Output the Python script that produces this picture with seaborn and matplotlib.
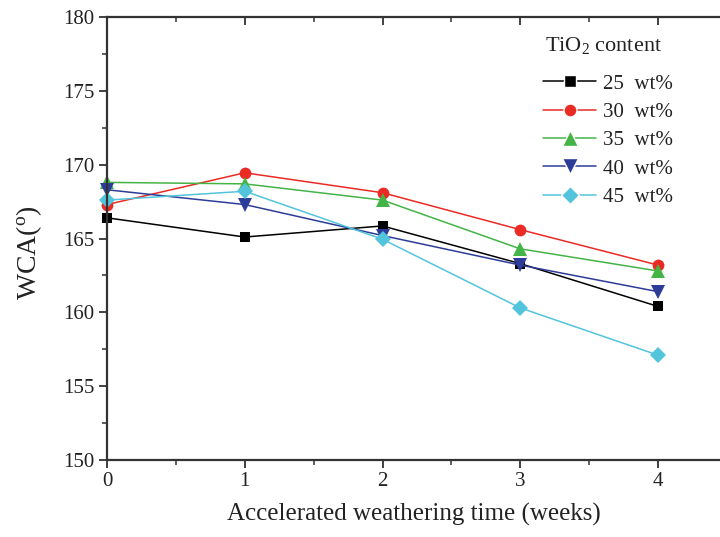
import matplotlib
matplotlib.use("Agg")
import matplotlib.pyplot as plt
import seaborn as sns
import pandas as pd
from matplotlib.ticker import MultipleLocator

weeks = [0, 1, 2, 3, 4]
wca_25 = [166.4, 165.1, 165.85, 163.3, 160.4]
wca_30 = [167.3, 169.45, 168.1, 165.6, 163.2]
wca_35 = [168.8, 168.7, 167.6, 164.3, 162.8]
wca_40 = [168.3, 167.3, 165.2, 163.2, 161.4]
wca_45 = [167.6, 168.2, 164.95, 160.3, 157.1]
labels = ["25  wt%", "30  wt%", "35  wt%", "40  wt%", "45  wt%"]
series = [wca_25, wca_30, wca_35, wca_40, wca_45]
colors = ["#000000", "#ea2b25", "#44b446", "#2c3c98", "#52c4dc"]
markers = ["s", "o", "^", "v", "D"]
msizes = [7.5, 8.5, 10, 10, 8]

sns.set_theme(style="ticks")
plt.rcParams["font.family"] = ["Liberation Serif", "DejaVu Serif"]
plt.rcParams["mathtext.fontset"] = "custom"
plt.rcParams["mathtext.rm"] = "Liberation Serif"
plt.rcParams["mathtext.it"] = "Liberation Serif:italic"

fig = plt.figure(figsize=(7.2, 5.37), dpi=100)
ax = fig.add_axes([107 / 720, 1 - 460 / 537, 1 - 107 / 720, (460 - 17) / 537])

for vals, lab, c, m, ms in zip(series, labels, colors, markers, msizes):
    df = pd.DataFrame({"week": weeks, "wca": vals})
    sns.lineplot(data=df, x="week", y="wca", ax=ax, color=c, marker=m,
                 markersize=ms, markeredgewidth=0, linewidth=1.1, label=lab,
                 clip_on=False)

ax.set_xlim(0, (720 - 107) / 137.75)
ax.set_ylim(150, 180)
ax.xaxis.set_major_locator(MultipleLocator(1))
ax.xaxis.set_minor_locator(MultipleLocator(0.5))
ax.yaxis.set_major_locator(MultipleLocator(5))
ax.yaxis.set_minor_locator(MultipleLocator(2.5))
ax.tick_params(which="major", direction="out", length=6, width=1.3, color="#333333",
               labelsize=15, pad=3, labelcolor="#222222")
ax.tick_params(which="minor", direction="out", length=3.5, width=1.1, color="#333333")
ax.tick_params(axis="x", which="both", top=True, labeltop=False)
for s in ["left", "bottom", "top"]:
    ax.spines[s].set_linewidth(1.6)
    ax.spines[s].set_color("#333333")
ax.spines["right"].set_visible(False)
# top ticks point inward
for t in ax.xaxis.get_major_ticks() + ax.xaxis.get_minor_ticks():
    t.tick2line.set_marker(3)

ax.set_xlabel("Accelerated weathering time (weeks)", fontsize=18, labelpad=8,
              color="#222222")
ax.set_ylabel("WCA($^{\\mathrm{o}}$)", fontsize=20, color="#222222")
ax.yaxis.set_label_coords((44 - 107) / 613, 0.467)

fig.text(545 / 720, 1 - 45 / 537, "TiO$_2$ content", fontsize=16, color="#222222",
         ha="left", va="center")

leg = ax.legend(loc="upper left",
                bbox_to_anchor=(543 / 720, 1 - 74 / 537),
                bbox_transform=fig.transFigure,
                frameon=False, fontsize=15, handlelength=2.55,
                handletextpad=0.35, labelspacing=0.42, borderpad=0, borderaxespad=0,
                markerscale=1.1)
for txt in leg.get_texts():
    txt.set_color("#222222")
for h in leg.legend_handles:
    h.set_markeredgecolor("white")
    h.set_markeredgewidth(1.0)

fig.savefig("out.png", dpi=100)
